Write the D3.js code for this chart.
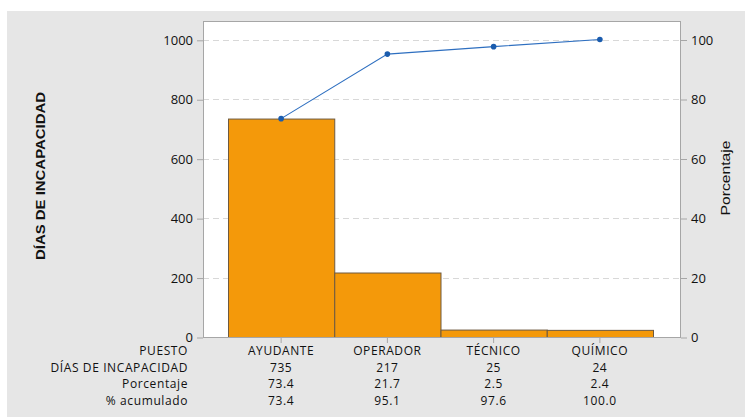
<!DOCTYPE html>
<html>
<head>
<meta charset="utf-8">
<script src="https://cdn.jsdelivr.net/npm/d3@7"></script>
<style>
  body { margin: 0; background: #fff; }
  svg { display: block; font-family: "Open Sans", "Noto Sans", sans-serif; }
</style>
</head>
<body>
<svg id="chart" width="745" height="417"></svg>
<script>
const puestos = ["AYUDANTE", "OPERADOR", "TÉCNICO", "QUÍMICO"];
const dias = [735, 217, 25, 24];
const porcentaje = ["73.4", "21.7", "2.5", "2.4"];
const acumulado = [73.4, 95.1, 97.6, 100.0];
const leftTicks = [0, 200, 400, 600, 800, 1000];
const rightTicks = [0, 20, 40, 60, 80, 100];

const svg = d3.select("#chart");
const total = d3.sum(dias);

// fondo gris
svg.append("rect")
    .attr("x", 7).attr("y", 11)
    .attr("width", 738).attr("height", 406)
    .attr("fill", "#e6e6e6");

const plot = { left: 203, right: 680, top: 21, bottom: 337 };

const y = d3.scaleLinear()
    .domain([0, total])
    .range([plot.bottom, 39.5]);
const yPct = d3.scaleLinear()
    .domain([0, 100])
    .range([plot.bottom, 39.5]);
const x = d3.scaleBand()
    .domain(puestos)
    .range([228, 653])
    .paddingInner(0);

svg.append("rect")
    .attr("x", plot.left).attr("y", plot.top)
    .attr("width", plot.right - plot.left).attr("height", plot.bottom - plot.top)
    .attr("fill", "#fff");

// grid
svg.append("g")
    .selectAll("line")
    .data(leftTicks.filter(d => d > 0))
    .enter().append("line")
    .attr("x1", plot.left).attr("x2", plot.right)
    .attr("y1", d => Math.round(y(d)) + 0.5).attr("y2", d => Math.round(y(d)) + 0.5)
    .attr("stroke", "#d8d8d8")
    .attr("stroke-dasharray", "6,4");

// barras
svg.append("g")
    .selectAll("rect")
    .data(dias)
    .enter().append("rect")
    .attr("x", (d, i) => x(puestos[i]) + 0.5)
    .attr("y", d => y(d) + 0.5)
    .attr("width", x.bandwidth())
    .attr("height", d => plot.bottom - y(d))
    .attr("fill", "#f4990a")
    .attr("stroke", "#6e5a40")
    .attr("stroke-width", 1);

// marco
svg.append("rect")
    .attr("x", plot.left + 0.5).attr("y", plot.top + 0.5)
    .attr("width", plot.right - plot.left).attr("height", plot.bottom - plot.top)
    .attr("fill", "none")
    .attr("stroke", "#a6a6a6");

// linea acumulada
const cx = d => x(d) + x.bandwidth() / 2;
svg.append("path")
    .datum(acumulado)
    .attr("d", d3.line().x((d, i) => cx(puestos[i])).y(d => yPct(d)))
    .attr("fill", "none")
    .attr("stroke", "#2e6fc0")
    .attr("stroke-width", 1.1);
svg.append("g")
    .selectAll("circle")
    .data(acumulado)
    .enter().append("circle")
    .attr("cx", (d, i) => cx(puestos[i]))
    .attr("cy", d => yPct(d))
    .attr("r", 2.8)
    .attr("fill", "#1a5cae");

// ejes
const axL = svg.append("g")
    .attr("transform", "translate(" + plot.left + ",0.5)")
    .call(d3.axisLeft(y).tickValues(leftTicks).tickFormat(d3.format("d")).tickSize(6).tickPadding(4));
const axR = svg.append("g")
    .attr("transform", "translate(" + (plot.right + 1) + ",0.5)")
    .call(d3.axisRight(yPct).tickValues(rightTicks).tickFormat(d3.format("d")).tickSize(6).tickPadding(4));
const axB = svg.append("g")
    .attr("transform", "translate(0," + (plot.bottom + 1) + ")")
    .call(d3.axisBottom(x).tickSize(5).tickFormat(""));
[axL, axR, axB].forEach(a => {
    a.select(".domain").remove();
    a.selectAll("line").attr("stroke", "#a6a6a6");
    a.selectAll("text").attr("fill", "#111").style("font-size", "13px")
        .style("font-family", "'Open Sans', sans-serif");
});

// titulos
svg.append("text")
    .attr("transform", "translate(45,176) rotate(-90)")
    .attr("text-anchor", "middle")
    .attr("textLength", 168)
    .attr("lengthAdjust", "spacingAndGlyphs")
    .style("font-size", "13px")
    .style("font-weight", "bold")
    .style("font-family", "'Liberation Sans', Arial, sans-serif")
    .attr("fill", "#111")
    .text("DÍAS DE INCAPACIDAD");
svg.append("text")
    .attr("transform", "translate(730,178) rotate(-90)")
    .attr("text-anchor", "middle")
    .attr("textLength", 75)
    .attr("lengthAdjust", "spacingAndGlyphs")
    .style("font-size", "13px")
    .style("font-family", "'Liberation Sans', Arial, sans-serif")
    .attr("fill", "#111")
    .text("Porcentaje");

// tabla
const rows = [
    { label: "PUESTO", values: puestos },
    { label: "DÍAS DE INCAPACIDAD", values: dias.map(String) },
    { label: "Porcentaje", values: porcentaje },
    { label: "% acumulado", values: acumulado.map(d => d.toFixed(1)) }
];
const rowY = [355, 371.5, 388, 404.5];
rows.forEach((r, j) => {
    svg.append("text")
        .attr("x", 188).attr("y", rowY[j])
        .attr("text-anchor", "end")
        .style("font-size", "12px")
        .style("letter-spacing", "0.6px")
        .attr("fill", "#111")
        .text(r.label);
    svg.append("g").selectAll("text")
        .data(r.values)
        .enter().append("text")
        .attr("x", (d, i) => cx(puestos[i]))
        .attr("y", rowY[j])
        .attr("text-anchor", "middle")
        .style("font-size", "12px")
        .style("letter-spacing", "0.6px")
        .attr("fill", "#111")
        .text(d => d);
});
</script>
</body>
</html>
